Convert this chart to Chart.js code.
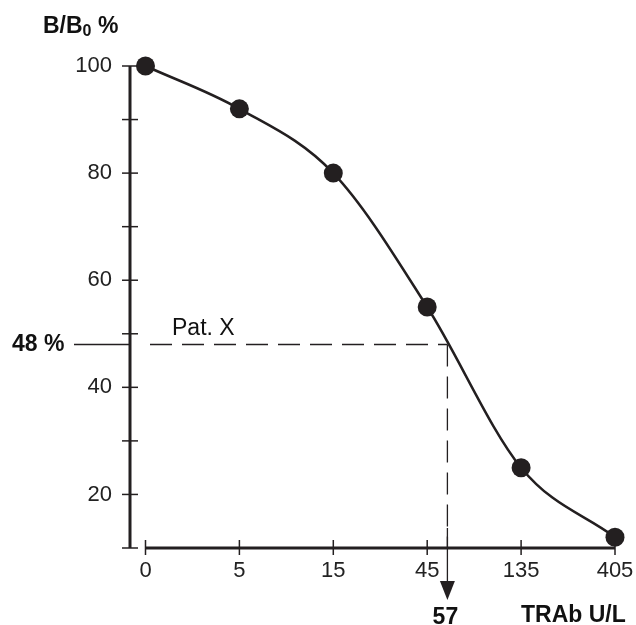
<!DOCTYPE html>
<html>
<head>
<meta charset="utf-8">
<title>TRAb standard curve</title>
<script src="https://cdn.jsdelivr.net/npm/chart.js"></script>
<style>
  body { margin: 0; background: #fff; }
  #wrap { width: 636px; height: 625px; position: relative; }
</style>
</head>
<body>
<div id="wrap"><canvas id="curveChart"></canvas></div>
<script>
  // Data
  const xLabels = ['0', '5', '15', '45', '135', '405'];
  const yValues = [100, 92, 80, 55, 25, 12];
  const yTickLabels = [20, 40, 60, 80, 100];
  const patientPercent = 48;
  const patientConc = 57;

  const FONT = '"Liberation Sans", Arial, Helvetica, sans-serif';
  const INK = '#231f20';

  // 0 sits on its own, then every step is x3 (5, 15, 45 ...)
  function concToIndex(c) {
    return 1 + Math.log(c / 5) / Math.log(3);
  }

  const points = yValues.map((v, i) => ({ x: i, y: v }));

  // Axes, tick marks, the Pat. X guide lines and the labels
  const decorPlugin = {
    id: 'decor',
    afterDraw(chart) {
      const ctx = chart.ctx;
      const xs = chart.scales.x;
      const ys = chart.scales.y;
      const axisX = chart.chartArea.left;
      const axisY = ys.getPixelForValue(10);

      ctx.save();
      ctx.strokeStyle = INK;
      ctx.fillStyle = INK;

      // y axis
      ctx.lineWidth = 3;
      ctx.beginPath();
      ctx.moveTo(axisX, ys.getPixelForValue(100));
      ctx.lineTo(axisX, axisY);
      ctx.stroke();
      ctx.lineWidth = 1.5;
      for (let v = 10; v <= 100; v += 10) {
        const py = ys.getPixelForValue(v);
        ctx.beginPath();
        ctx.moveTo(axisX - 8, py);
        ctx.lineTo(axisX + 8, py);
        ctx.stroke();
      }

      // x axis
      ctx.lineWidth = 3;
      ctx.beginPath();
      ctx.moveTo(xs.getPixelForValue(0), axisY);
      ctx.lineTo(xs.getPixelForValue(xLabels.length - 1), axisY);
      ctx.stroke();
      ctx.lineWidth = 1.5;
      xLabels.forEach((_, i) => {
        const px = xs.getPixelForValue(i);
        ctx.beginPath();
        ctx.moveTo(px, axisY - 8);
        ctx.lineTo(px, axisY + 7);
        ctx.stroke();
      });

      // Pat. X guide lines
      const gx = xs.getPixelForValue(concToIndex(patientConc));
      const gy = ys.getPixelForValue(patientPercent);
      ctx.lineWidth = 1.3;
      ctx.beginPath();
      ctx.moveTo(74, gy);
      ctx.lineTo(axisX, gy);
      ctx.stroke();
      ctx.setLineDash([22, 10]);
      ctx.beginPath();
      ctx.moveTo(axisX + 20, gy);
      ctx.lineTo(gx, gy);
      ctx.moveTo(gx, gy);
      ctx.lineTo(gx, axisY);
      ctx.stroke();
      ctx.setLineDash([]);
      ctx.beginPath();
      ctx.moveTo(gx, axisY - 20);
      ctx.lineTo(gx, axisY + 34);
      ctx.stroke();
      ctx.beginPath();
      ctx.moveTo(gx - 7.5, axisY + 33);
      ctx.lineTo(gx + 7.5, axisY + 33);
      ctx.lineTo(gx, axisY + 52);
      ctx.closePath();
      ctx.fill();

      // texts
      ctx.fillStyle = '#111';
      ctx.textBaseline = 'alphabetic';
      ctx.textAlign = 'left';
      ctx.font = 'bold 23px ' + FONT;
      ctx.fillText('B/B', 43, 33);
      const w = ctx.measureText('B/B').width;
      ctx.font = 'bold 16px ' + FONT;
      ctx.fillText('0', 43 + w, 36);
      const w0 = ctx.measureText('0').width;
      ctx.font = 'bold 23px ' + FONT;
      ctx.fillText(' %', 43 + w + w0, 33);

      ctx.fillText(patientPercent + ' %', 12, gy + 7);
      ctx.textAlign = 'center';
      ctx.fillText(String(patientConc), gx - 2, 624);
      ctx.textAlign = 'left';
      ctx.fillText('TRAb U/L', 521, 622);

      ctx.font = '23px ' + FONT;
      ctx.fillText('Pat. X', 172, gy - 9);
      ctx.restore();
    }
  };

  function initChart() {
    const ctx = document.getElementById('curveChart').getContext('2d');
    new Chart(ctx, {
      type: 'line',
      data: {
        datasets: [{
          data: points,
          borderColor: INK,
          borderWidth: 2.5,
          cubicInterpolationMode: 'monotone',
          pointRadius: 9.5,
          pointHoverRadius: 9.5,
          pointBackgroundColor: INK,
          pointBorderColor: INK,
          pointBorderWidth: 0,
          clip: false
        }]
      },
      options: {
        responsive: true,
        maintainAspectRatio: false,
        animation: false,
        layout: { padding: { top: 66, right: 21, bottom: 0, left: 0 } },
        plugins: {
          legend: { display: false },
          tooltip: { enabled: false }
        },
        scales: {
          x: {
            type: 'linear',
            min: -0.165,
            max: xLabels.length - 1,
            grid: { display: false, drawTicks: false },
            border: { display: false },
            afterBuildTicks(scale) {
              scale.ticks = xLabels.map((_, i) => ({ value: i }));
            },
            afterFit(scale) {
              scale.height = 77;
              scale.paddingLeft = 0;
              scale.paddingRight = 0;
            },
            ticks: {
              autoSkip: false,
              maxRotation: 0,
              padding: 10,
              color: '#222',
              font: { family: FONT, size: 22 },
              callback: (v) => xLabels[v]
            }
          },
          y: {
            min: 10,
            max: 100,
            grid: { display: false, drawTicks: false },
            border: { display: false },
            afterBuildTicks(scale) {
              scale.ticks = yTickLabels.map((v) => ({ value: v }));
            },
            afterFit(scale) { scale.width = 130; },
            ticks: {
              padding: 18,
              color: '#222',
              font: { family: FONT, size: 22 }
            }
          }
        }
      },
      plugins: [decorPlugin]
    });
  }

  initChart();
</script>
</body>
</html>
